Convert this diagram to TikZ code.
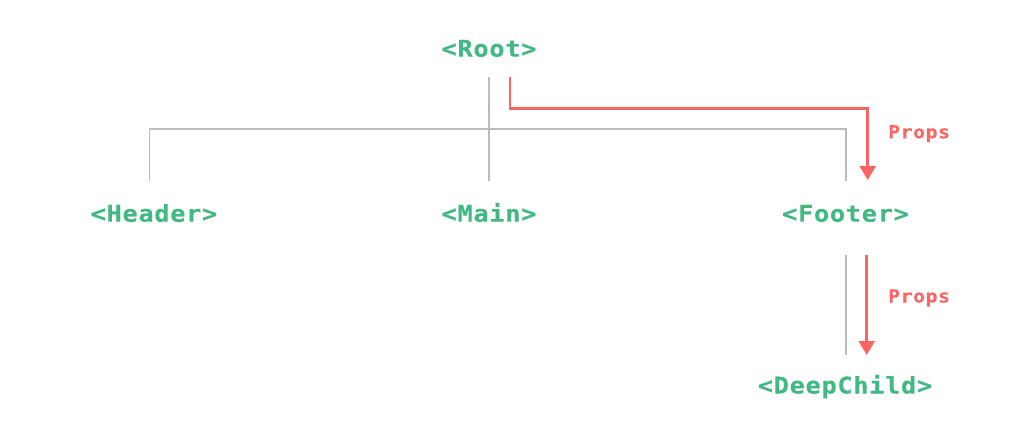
\documentclass[tikz,border=0pt]{standalone}
\usepackage{fontspec}
\usetikzlibrary{
    arrows.meta,
    calc
}
\newfontfamily\compfont{DejaVu Sans Mono}[LetterSpace = 3, FakeStretch = 1.1, FakeBold = 0.2]
\definecolor{vuegreen}{HTML}{42B883}
\definecolor{propsred}{HTML}{FF6464}
\definecolor{treegray}{HTML}{BBBBBB}
\tikzset {
    comp/.style = {
        text = vuegreen,
        inner sep = 0pt,
        anchor = base,
        font = \compfont\bfseries\fontsize{23}{26}\selectfont
    },
    props/.style = {
        text = propsred,
        inner sep = 0pt,
        anchor = base west,
        font = \compfont\bfseries\fontsize{18}{22}\selectfont
    },
    tree line/.style = {draw = treegray, line width = 1.4pt},
    props line/.style = {
        draw = propsred,
        line width = 2.8pt,
        arrows = {-Triangle[length = 14pt, width = 16pt]}
    }
}
\begin{document}
\begin{tikzpicture}[x = 1pt, y = -1pt]
            \useasboundingbox (0, 0) rectangle (1024, 435);
            \node (root) [comp] at (489, 56.7) {<Root>};
            \node (header) [comp] at (154, 221.7) {<Header>};
            \node (main) [comp] at (489, 221.7) {<Main>};
            \node (footer) [comp] at (845.5, 221.7) {<Footer>};
            \node (deepchild) [comp] at (845, 393.5) {<DeepChild>};
            \coordinate (bus) at ($ (root.base) + (0, 72.3) $);
            \draw [tree line] ($ (root.base) + (0, 20.6) $) -- ($ (main.base) + (0, -40.7) $);
            \draw [tree line] ($ (header.base) + (-4.7, -40.7) $) |- (bus)
                -| ($ (footer.base) + (0.5, -40.7) $);
            \draw [tree line] ($ (footer.base) + (0.5, 33.3) $) -- ($ (deepchild.base) + (1, -38.5) $);
            \draw [props line] ($ (root.base) + (21, 20.6) $)
                |- ($ (footer.base) + (22.2, -113.5) $) -- ($ (footer.base) + (22.2, -41.7) $);
            \draw [props line] ($ (footer.base) + (21.2, 33.3) $) -- ($ (deepchild.base) + (21.7, -38.5) $);
            \node (props1) [props] at (888, 138.3) {Props};
            \node (props2) [props] at (888, 302.5) {Props};
        \end{tikzpicture}
\end{document}
